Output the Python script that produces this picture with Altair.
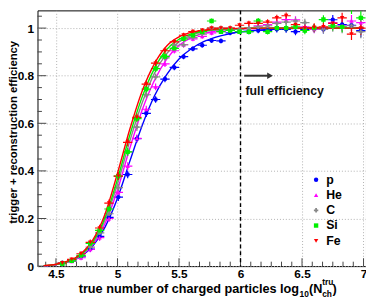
import altair as alt
import pandas as pd

# ---------------- data ----------------
series = ["p", "He", "C", "Si", "Fe"]
colors = ["#0000ff", "#ff00ff", "#888888", "#00f000", "#ff0000"]
shapes = ["circle", "triangle-up", "cross", "square", "triangle-down"]

bin_x = [4.552, 4.628, 4.704, 4.779, 4.855, 4.931, 5.007, 5.083, 5.158, 5.234,
         5.310, 5.386, 5.462, 5.537, 5.613, 5.689, 5.765, 5.841, 5.916, 5.992,
         6.068, 6.144, 6.220, 6.295, 6.371, 6.447, 6.523, 6.599, 6.674, 6.750,
         6.826, 6.902, 6.978]
bin_half = 0.038
y_err = [0.006, 0.008, 0.010, 0.012, 0.014, 0.015, 0.016, 0.016, 0.016, 0.015,
         0.014, 0.013, 0.012, 0.011, 0.010, 0.010, 0.010, 0.010, 0.010, 0.010,
         0.011, 0.012, 0.012, 0.013, 0.014, 0.015, 0.016, 0.017, 0.018, 0.020,
         0.022, 0.025, 0.028]

eff_p = [0.013, 0.022, 0.040, 0.072, 0.125, 0.205, 0.290, 0.385, 0.535, 0.642,
         0.700, 0.786, 0.835, 0.880, 0.913, 0.928, 0.948, 0.946, 0.980, 0.985,
         0.985, 0.990, 0.990, 0.995, 0.995, 0.985, 0.995, 1.000, 0.995, 1.035,
         1.015, 1.012, 0.990]
eff_he = [0.012, 0.020, 0.035, 0.070, 0.120, 0.200, 0.310, 0.420, 0.537, 0.659,
          0.753, 0.850, 0.905, 0.930, 0.955, 0.965, 0.980, 0.985, 0.990, 0.995,
          1.000, 1.010, 1.015, 1.025, 1.036, 1.035, 1.005, 0.995, 1.000, 1.023,
          1.010, 1.030, 1.023]
eff_c = [0.015, 0.025, 0.042, 0.080, 0.140, 0.220, 0.330, 0.480, 0.584, 0.720,
         0.795, 0.875, 0.928, 0.930, 0.960, 0.975, 1.000, 1.000, 1.000, 0.995,
         1.000, 1.005, 1.010, 1.020, 1.025, 1.030, 1.023, 1.000, 0.995, 1.005,
         1.000, 1.010, 0.985]
eff_si = [0.010, 0.022, 0.045, 0.095, 0.150, 0.240, 0.378, 0.480, 0.620, 0.744,
          0.830, 0.881, 0.915, 0.955, 0.970, 0.985, 1.030, 0.985, 0.990, 0.985,
          0.985, 1.030, 0.985, 1.000, 1.000, 1.005, 0.990, 1.000, 1.036, 1.010,
          1.005, 1.084, 1.043]
eff_fe = [0.013, 0.028, 0.052, 0.100, 0.160, 0.265, 0.378, 0.520, 0.625, 0.765,
          0.853, 0.905, 0.942, 0.970, 0.985, 0.990, 1.000, 1.000, 1.000, 1.012,
          1.020, 1.020, 1.025, 1.043, 1.052, 1.015, 1.000, 1.003, 1.005, 1.020,
          1.043, 0.975, 1.000]

curve_x = [4.40, 4.50, 4.60, 4.70, 4.80, 4.90, 5.00, 5.10, 5.20, 5.30, 5.40,
           5.50, 5.60, 5.70, 5.80, 5.90, 6.00, 6.25, 6.50, 7.00]
fit_p = [0.001, 0.006, 0.018, 0.040, 0.085, 0.165, 0.285, 0.440, 0.590, 0.715,
         0.805, 0.870, 0.913, 0.943, 0.962, 0.975, 0.984, 0.995, 0.999, 1.000]
fit_he = [0.001, 0.006, 0.018, 0.042, 0.090, 0.180, 0.320, 0.495, 0.655, 0.780,
          0.870, 0.927, 0.960, 0.978, 0.988, 0.993, 0.996, 0.999, 1.000, 1.000]
fit_c = [0.001, 0.006, 0.019, 0.045, 0.097, 0.195, 0.345, 0.525, 0.685, 0.810,
         0.893, 0.942, 0.970, 0.985, 0.992, 0.996, 0.998, 1.000, 1.000, 1.000]
fit_si = [0.002, 0.007, 0.020, 0.047, 0.103, 0.205, 0.365, 0.550, 0.710, 0.830,
          0.910, 0.953, 0.976, 0.988, 0.994, 0.997, 0.999, 1.000, 1.000, 1.000]
fit_fe = [0.002, 0.008, 0.022, 0.050, 0.110, 0.220, 0.390, 0.575, 0.735, 0.850,
          0.925, 0.963, 0.982, 0.991, 0.996, 0.998, 0.999, 1.000, 1.000, 1.000]

x_major = [4.5, 5.0, 5.5, 6.0, 6.5, 7.0]
x_minor = [round(4.5 + k / 12, 4) for k in range(-1, 31) if k % 6 != 0]
y_major = [0.0, 0.2, 0.4, 0.6, 0.8, 1.0]
y_minor = [round(0.05 * k, 3) for k in range(1, 22) if k % 4 != 0]

threshold_x = [6.0]
arrow_x = [6.03, 6.24]
arrow_y = [0.80, 0.80]
label_x = [6.04]
label_y = [0.735]
label_text = ["full efficiency"]

# ---------------- tables ----------------
effs = [eff_p, eff_he, eff_c, eff_si, eff_fe]
fits = [fit_p, fit_he, fit_c, fit_si, fit_fe]

W, H = 334, 260
FONT = "Liberation Sans"
xs = alt.Scale(domain=[4.35, 7.02], nice=False, zero=False)
ys = alt.Scale(domain=[0, 1.0744], nice=False, zero=False)
XA = alt.Axis(values=x_major, format="~g", title=None, grid=True, gridDash=[1, 2],
              gridColor="#b0b0b0", ticks=False, domain=False, labelPadding=3,
              labelFontSize=12, labelFontWeight="bold", labelFont=FONT,
              labelColor="black", labelFlush=False)
YA = alt.Axis(values=y_major, format="~g", title=None, grid=True, gridDash=[1, 2],
              gridColor="#b0b0b0", ticks=False, domain=False, labelPadding=4,
              labelFontSize=12, labelFontWeight="bold", labelFont=FONT,
              labelColor="black")
cscale = alt.Scale(domain=series, range=colors)
sscale = alt.Scale(domain=series, range=shapes)
LEG = alt.Legend(orient="none", legendX=277, legendY=166,
                 labelFontSize=12.5, labelFontWeight="bold",
                 labelFont=FONT, labelColor="black",
                 symbolSize=20, rowPadding=2.5, padding=0,
                 labelOffset=4, symbolStrokeWidth=0, symbolOpacity=1)

series_layers = []
all_rows = []
for s, col, vals, fv in zip(series, colors, effs, fits):
    rows = [dict(series=s, x=x, y=y, xlo=x - bin_half, xhi=x + bin_half,
                 ylo=y - e, yhi=y + e) for x, y, e in zip(bin_x, vals, y_err)]
    all_rows += rows
    df = pd.DataFrame(rows)
    cdf = pd.DataFrame({"x": curve_x, "y": fv})
    series_layers.append(alt.Chart(df).mark_rule(
        strokeWidth=1.2, clip=True, color=col).encode(
        x=alt.X("xlo:Q", scale=xs, axis=XA), x2="xhi:Q",
        y=alt.Y("y:Q", scale=ys, axis=YA)))
    series_layers.append(alt.Chart(df).mark_rule(
        strokeWidth=1.2, clip=True, color=col).encode(
        x=alt.X("x:Q", scale=xs, axis=XA),
        y=alt.Y("ylo:Q", scale=ys, axis=YA), y2="yhi:Q"))
    series_layers.append(alt.Chart(cdf).mark_line(
        strokeWidth=1.4, interpolate="monotone", color=col).encode(
        x=alt.X("x:Q", scale=xs, axis=XA),
        y=alt.Y("y:Q", scale=ys, axis=YA)))

pts = pd.DataFrame(all_rows)
dots = alt.Chart(pts).mark_point(filled=True, size=20, opacity=1, clip=True).encode(
    x=alt.X("x:Q", scale=xs, axis=XA),
    y=alt.Y("y:Q", scale=ys, axis=YA),
    color=alt.Color("series:N", scale=cscale, title=None, legend=LEG),
    shape=alt.Shape("series:N", scale=sscale, title=None, legend=LEG),
    order=alt.Order("order:Q"),
).transform_calculate(order="indexof(['p','He','C','Si','Fe'], datum.series)")

thr = alt.Chart(pd.DataFrame({"x": threshold_x})).mark_rule(
    color="black", strokeDash=[4, 3], strokeWidth=1.4).encode(
    x=alt.X("x:Q", scale=xs, axis=XA))
arr_df = pd.DataFrame({"x": arrow_x, "y": arrow_y})
arrow = alt.Chart(arr_df).mark_line(color="#333333", strokeWidth=2).encode(
    x=alt.X("x:Q", scale=xs, axis=XA), y=alt.Y("y:Q", scale=ys, axis=YA))
head = alt.Chart(arr_df.tail(1)).mark_point(
    shape="triangle-right", filled=True, size=45, color="#333333", opacity=1).encode(
    x=alt.X("x:Q", scale=xs, axis=XA), y=alt.Y("y:Q", scale=ys, axis=YA))
txt = alt.Chart(pd.DataFrame({"x": label_x, "y": label_y, "t": label_text})).mark_text(
    align="left", baseline="middle", font=FONT, fontWeight="bold", fontSize=12.5,
    color="#111111").encode(
    x=alt.X("x:Q", scale=xs, axis=XA), y=alt.Y("y:Q", scale=ys, axis=YA), text="t:N")

tick_layers = []
for vals, ln in [(x_major, 8), (x_minor, 4.5)]:
    tick_layers.append(alt.Chart(pd.DataFrame({"v": vals})).mark_rule(
        color="#444444", strokeWidth=1).encode(
        x=alt.X("v:Q", scale=xs, axis=XA), y=alt.value(H), y2=alt.value(H - ln)))
for vals, ln in [(y_major, 9), (y_minor, 4.5)]:
    tick_layers.append(alt.Chart(pd.DataFrame({"v": vals})).mark_rule(
        color="#444444", strokeWidth=1).encode(
        y=alt.Y("v:Q", scale=ys, axis=YA), x=alt.value(0), x2=alt.value(ln)))

# axis titles (with sub/superscripts)
title_parts = [
    ("true number of charged particles log", 266, 287, 12.9, "right"),
    ("10", 266.5, 291, 8.5, "left"),
    ("(N", 276, 287, 12.9, "left"),
    ("ch", 289.5, 291, 8.5, "left"),
    ("tru", 289.5, 279.5, 8.5, "left"),
    (")", 300, 287, 12.9, "left"),
]
title_layers = []
for t, px, py, fs, al in title_parts:
    title_layers.append(alt.Chart(pd.DataFrame({"t": [t]})).mark_text(
        align=al, baseline="alphabetic", font=FONT, fontWeight="bold", fontSize=fs,
        color="black").encode(text="t:N", x=alt.value(px), y=alt.value(py)))
ytitle = alt.Chart(pd.DataFrame({"t": ["trigger + reconstruction efficiency"]})).mark_text(
    angle=270, align="center", baseline="middle", font=FONT, fontWeight="bold",
    fontSize=11.5, color="black").encode(text="t:N", x=alt.value(-24),
                                          y=alt.value(124))

chart = alt.layer(
    *tick_layers, thr, arrow, head, txt, *series_layers, dots,
    *title_layers, ytitle
).properties(
    width=W, height=H,
    padding={"left": 30, "top": 0, "right": 0, "bottom": 31},
    autosize=alt.AutoSizeParams(type="none"),
    background="white",
).configure_view(stroke="black", strokeWidth=1)

chart.save("out.html", embed_options={"renderer": "svg", "actions": False})
